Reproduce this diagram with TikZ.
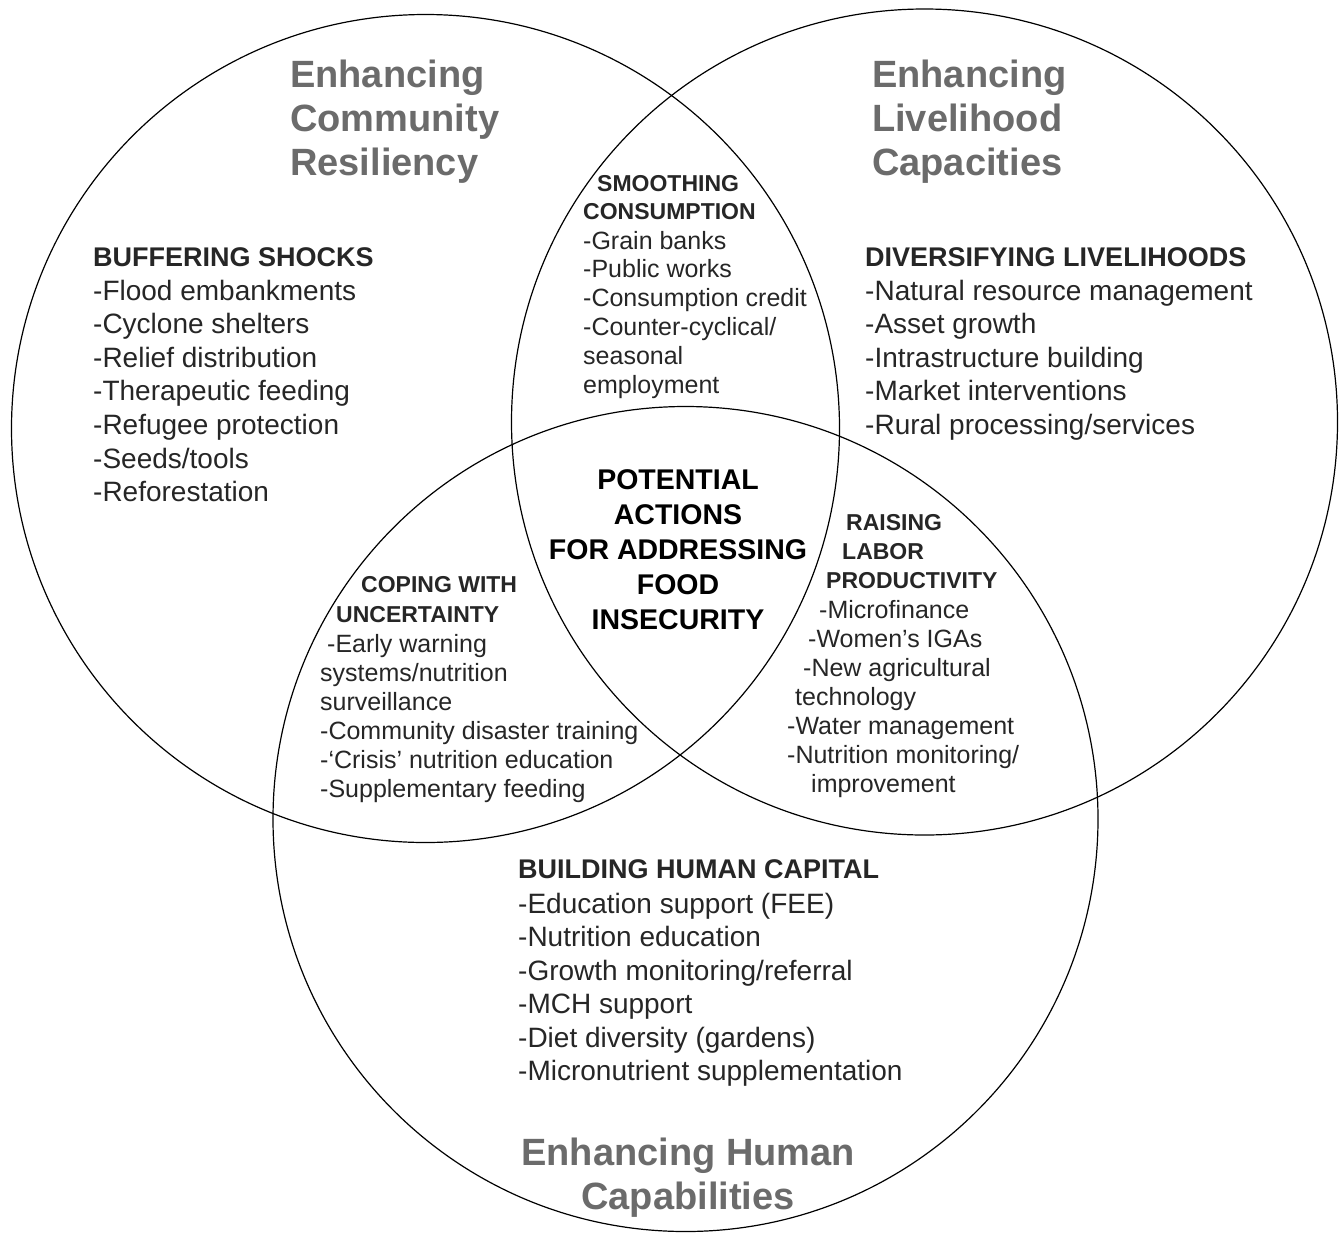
\documentclass[tikz,border=0pt]{standalone}
\usepackage{fontspec}
\setmainfont{Liberation Sans}
\definecolor{ttlgray}{HTML}{6B6B6B}
\definecolor{txt}{HTML}{262626}
\begin{document}
\begin{tikzpicture}[x=1pt,y=-1pt,
  circ/.style={draw=black,line width=1.2pt},
  ttl/.style={anchor=base west,inner sep=0pt,text=ttlgray,font=\fontsize{38}{44}\selectfont\bfseries},
  ttlc/.style={ttl,anchor=base},
  hdr/.style={anchor=base west,inner sep=0pt,text=txt,font=\fontsize{27}{33}\selectfont\bfseries},
  body/.style={anchor=base west,inner sep=0pt,text=txt,font=\fontsize{28}{33.5}\selectfont},
  shdr/.style={anchor=base west,inner sep=0pt,text=txt,font=\fontsize{23}{29}\selectfont\bfseries},
  sbody/.style={anchor=base west,inner sep=0pt,text=txt,font=\fontsize{25}{29}\selectfont},
  ctr/.style={anchor=base,inner sep=0pt,text=black,font=\fontsize{28.5}{35}\selectfont\bfseries}]
\useasboundingbox[fill=white] (0,0) rectangle (1340,1232);
% circles
\draw[circ] (425.5,428.5) circle[radius=414];
\draw[circ] (924.5,422) circle[radius=413];
\draw[circ] (685.5,819) circle[radius=412.5];
% titles
\foreach \t [count=\i from 0] in {Enhancing,Community,Resiliency}
  \node[ttl] (tA\i) at (290,87+44*\i) {\t};
\foreach \t [count=\i from 0] in {Enhancing,Livelihood,Capacities}
  \node[ttl] (tB\i) at (872,87+44*\i) {\t};
\node[ttlc] (tC0) at (688,1165) {Enhancing Human};
\node[ttlc] (tC1) at (688,1209) {Capabilities};
% buffering shocks
\node[hdr] (bufh) at (93,266) {BUFFERING SHOCKS};
\foreach \t [count=\i from 0] in {-Flood embankments,-Cyclone shelters,-Relief distribution,-Therapeutic feeding,-Refugee protection,-Seeds/tools,-Reforestation}
  \node[body] (buf\i) at (93,300+33.6*\i) {\t};
% diversifying livelihoods
\node[hdr] (divh) at (865,266) {DIVERSIFYING LIVELIHOODS};
\foreach \t [count=\i from 0] in {-Natural resource management,-Asset growth,-Intrastructure building,-Market interventions,-Rural processing/services}
  \node[body] (div\i) at (865,300+33.6*\i) {\t};
% smoothing consumption
\node[shdr] (smh0) at (597,191) {SMOOTHING};
\node[shdr] (smh1) at (583,219) {CONSUMPTION};
\foreach \t [count=\i from 0] in {-Grain banks,-Public works,-Consumption credit,-Counter-cyclical/,seasonal,employment}
  \node[sbody] (sm\i) at (583,249+28.8*\i) {\t};
% center
\foreach \t [count=\i from 0] in {POTENTIAL,ACTIONS,FOR ADDRESSING,FOOD,INSECURITY}
  \node[ctr] (ctr\i) at (678,489+35*\i) {\t};
% coping
\node[shdr] (coh0) at (361,592) {COPING WITH};
\node[shdr] (coh1) at (336,622) {UNCERTAINTY};
\node[sbody] (co0) at (327,652) {-Early warning};
\foreach \t [count=\i from 1] in {systems/nutrition,surveillance,-Community disaster training,-‘Crisis’ nutrition education,-Supplementary feeding}
  \node[sbody] (co\i) at (320,652+29*\i) {\t};
% raising labor productivity
\node[shdr] (rah0) at (846,530) {RAISING};
\node[shdr] (rah1) at (842,559) {LABOR};
\node[shdr] (rah2) at (826,588) {PRODUCTIVITY};
\node[sbody] (ra0) at (819,618) {-Microfinance};
\node[sbody] (ra1) at (808,647) {-Women’s IGAs};
\node[sbody] (ra2) at (803,676) {-New agricultural};
\node[sbody] (ra3) at (795,705) {technology};
\node[sbody] (ra4) at (787,734) {-Water management};
\node[sbody] (ra5) at (787,763) {-Nutrition monitoring/};
\node[sbody] (ra6) at (811,792) {improvement};
% building human capital
\node[hdr] (buh) at (518,878) {BUILDING HUMAN CAPITAL};
\foreach \t [count=\i from 0] in {-Education support (FEE),-Nutrition education,-Growth monitoring/referral,-MCH support,-Diet diversity (gardens),-Micronutrient supplementation}
  \node[body] (bu\i) at (518,913+33.5*\i) {\t};
\end{tikzpicture}
\end{document}
